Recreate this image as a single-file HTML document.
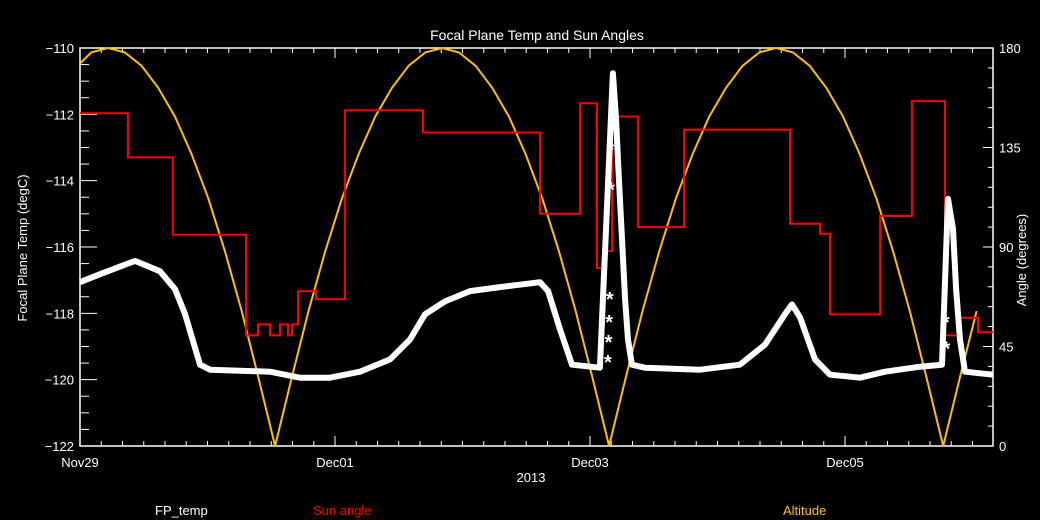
<!DOCTYPE html>
<html><head><meta charset="utf-8"><style>
html,body{margin:0;padding:0;background:#000;}
svg{display:block;font-family:"Liberation Sans",sans-serif;}
</style></head><body>
<svg id="chart" width="1040" height="520" viewBox="0 0 1040 520">
<rect width="1040" height="520" fill="#000"/>
<g id="axes"></g><g id="series"></g>
<text x="537" y="40" fill="#fff" font-size="14" text-anchor="middle">Focal Plane Temp and Sun Angles</text>
<text x="531" y="482" fill="#fff" font-size="13" text-anchor="middle">2013</text>
<text transform="translate(27,248) rotate(-90)" fill="#fff" font-size="13" text-anchor="middle">Focal Plane Temp (degC)</text>
<text transform="translate(1026,260) rotate(-90)" fill="#fff" font-size="13" text-anchor="middle">Angle (degrees)</text>
<text x="155" y="515" fill="#fff" font-size="13">FP_temp</text>
<text x="313" y="515" fill="#ff0000" font-size="13">Sun angle</text>
<text x="783" y="515" fill="#ffc000" font-size="13">Altitude</text>
</svg>
<script>
const xTickLabels=["Nov29","Dec01","Dec03","Dec05"];
const xTickDays=[0,2,4,6];
const yTicks=[-110,-112,-114,-116,-118,-120,-122];
const y2Ticks=[180,135,90,45,0];
const tempT=[0,.157,.431,.627,.745,.824,.941,1.02,1.49,1.725,1.96,2.196,2.431,2.588,2.706,2.863,3.059,3.294,3.608,3.671,3.765,3.859,4.078,4.18,4.204,4.227,4.251,4.275,4.298,4.329,4.431,4.863,5.176,5.373,5.529,5.584,5.647,5.765,5.882,6.118,6.314,6.588,6.761,6.808,6.847,6.871,6.902,6.941,7.161];
const tempV=[-117.06,-116.82,-116.42,-116.73,-117.27,-118.03,-119.55,-119.7,-119.76,-119.94,-119.94,-119.76,-119.39,-118.79,-118.03,-117.64,-117.33,-117.21,-117.06,-117.33,-118.48,-119.55,-119.64,-110.76,-112.12,-113.94,-115.76,-117.58,-118.79,-119.55,-119.64,-119.7,-119.55,-118.94,-118.03,-117.73,-118.12,-119.39,-119.85,-119.94,-119.76,-119.61,-119.55,-114.55,-115.45,-117.27,-118.79,-119.76,-119.85];
const spikeT=[4.14,4.145,4.15,4.155,4.16,4.165,6.79,6.795];
const spikeV=[-119.4,-118.8,-118.2,-117.5,-113.0,-114.2,-118.2,-119.0];
const sunT=[0,.376,.729,1.302,1.396,1.49,1.569,1.631,1.663,1.71,1.851,2.078,2.69,3.608,3.922,4.055,4.102,4.173,4.376,4.737,5.569,5.804,5.882,6.275,6.525,6.784,6.902,7.043];
const sunV=[150.5,130.5,95.5,50,55,50,55,50,55,70,66.4,151.8,141.8,105,155,80.5,88.2,149,99,143,100.5,96,59.5,104,156,50,58,51.4];
const altV=[173,178,180,178,172,162,149,132,112,88,61,31,0,31,61,88,112,132,149,162,172,178,180,178,172,162,149,132,112,88,61,31,0,31,61,88,112,132,149,162,172,178,180,178,172,162,149,132,112,88,61,31,0,31,61,88];
const altT0=0.089, altStep=0.131;
const X0=80,X1=993,Y0=48,Y1=446,TMAX=(993-80)/127.5;
const sx=t=>X0+t*127.5;
const sy=v=>Y0+(-110-v)/12*(Y1-Y0);
const sy2=a=>Y1-a/180*(Y1-Y0);
const NS="http://www.w3.org/2000/svg";
const ax=document.getElementById('axes'),se=document.getElementById('series');
function mk(tag,at,parent){const e=document.createElementNS(NS,tag);for(const k in at)e.setAttribute(k,at[k]);parent.appendChild(e);return e;}
const frame=mk('rect',{x:X0,y:Y0,width:X1-X0,height:Y1-Y0,fill:'none',stroke:'#fff','stroke-width':1.5},ax);


for(let i=0;i<=43;i++){const x=sx(i/6);if(x>X1)break;const major=i%12===0;
 const l=mk('line',{x1:x,x2:x,y1:Y1,y2:Y1-(major?10:5),stroke:'#fff'},ax);
 
 
 const l2=mk('line',{x1:x,x2:x,y1:Y0,y2:Y0+(major?10:5),stroke:'#fff'},ax);
 
 }
xTickLabels.forEach((s,i)=>{const t=mk('text',{x:sx(xTickDays[i]),y:467,fill:'#fff','font-size':13,'text-anchor':'middle'},ax);t.textContent=s;
 
 });
for(let v=-110;v>=-122;v-=0.5){const y=sy(v);const major=Math.abs(v%2)<1e-6;
 const l=mk('line',{x1:X0,x2:X0+(major?17:9),y1:y,y2:y,stroke:'#fff'},ax);
 
 }
yTicks.forEach(v=>{const t=mk('text',{x:74,y:sy(v)+5,fill:'#fff','font-size':13,'text-anchor':'end'},ax);t.textContent='\u2212'+Math.abs(v);
 
 });
for(let a=0;a<=180;a+=9){const y=sy2(a);const major=a%45===0;
 const l=mk('line',{x1:X1,x2:X1-(major?10:5),y1:y,y2:y,stroke:'#fff'},ax);
 
 }
y2Ticks.forEach(a=>{const t=mk('text',{x:999,y:sy2(a)+5,fill:'#fff','font-size':13},ax);t.textContent=a;
 
 });
let ap=[];altV.forEach((v,i)=>{let t=i===0?0:altT0+(i-1)*altStep;if(t>TMAX)return;ap.push(sx(t).toFixed(1)+','+sy2(v).toFixed(1));});
const alt=mk('polyline',{points:ap.join(' '),fill:'none',stroke:'#ffc000','stroke-width':2},se);


let sp=[];sunT.forEach((t,i)=>{const y=sy2(sunV[i]);const x=sx(t);if(i>0)sp.push(x.toFixed(1)+','+sy2(sunV[i-1]).toFixed(1));sp.push(x.toFixed(1)+','+y.toFixed(1));});
sp.push(sx(TMAX).toFixed(1)+','+sy2(sunV[sunV.length-1]).toFixed(1));
const sun=mk('polyline',{points:sp.join(' '),fill:'none',stroke:'#ff0000','stroke-width':2},se);


const tp=tempT.map((t,i)=>sx(t).toFixed(1)+','+sy(tempV[i]).toFixed(1)).join(' ');
const tl=mk('polyline',{points:tp,fill:'none',stroke:'#fff','stroke-width':6,'stroke-linejoin':'round'},se);


spikeT.forEach((t,i)=>{const c=mk('text',{x:sx(t),y:sy(spikeV[i])+9,fill:'#fff','font-size':20,'font-weight':'bold','text-anchor':'middle'},se);c.textContent='*';
 
 });
</script>
</body></html>
